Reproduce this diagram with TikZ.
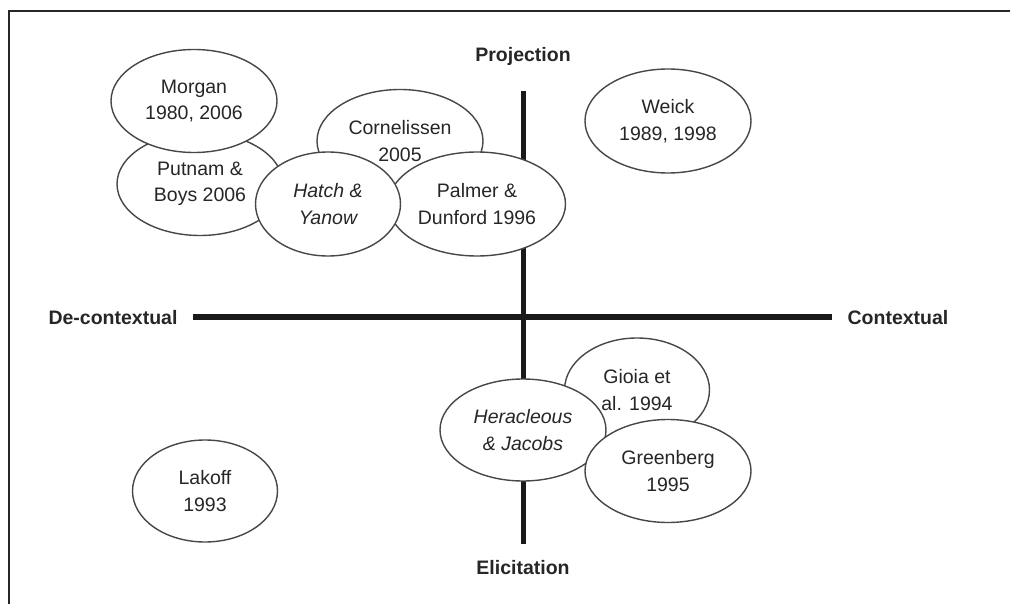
\documentclass[tikz,border=0pt]{standalone}
\usepackage{fontspec}
\setmainfont{Liberation Sans}
\usetikzlibrary{shapes.geometric}
\begin{document}
\begin{tikzpicture}[x=1pt,y=-1pt,
  frameline/.style={line width=2pt,draw=black!85},
  axis/.style={line width=5pt,draw=black!90},
  axislabel/.style={font=\fontsize{19.5}{24}\selectfont\bfseries,text=black!85,inner sep=0pt},
  work/.style={ellipse,draw=black!72,line width=1.4pt,fill=white,inner sep=0pt,
    align=center,text=black!85,font=\fontsize{19.5}{26.5}\selectfont},
  wide/.style={work,minimum width=166pt,minimum height=103pt},
  narrow/.style={work,minimum width=145pt,minimum height=104pt}]
\useasboundingbox (0,0) rectangle (1010,604);
% outer frame (left and top edges)
\draw[frameline] (8.5,604) -- (8.5,11) -- (1010,11);
% axes
\coordinate (ytop) at (523,91);
\coordinate (ybot) at (523,544);
\coordinate (xleft) at (193,317);
\coordinate (xright) at (832,317);
\draw[axis] (ytop) -- (ybot);
\draw[axis] (xleft) -- (xright);
% axis labels
\node[axislabel] (proj) at (523,56) {Projection};
\node[axislabel] (elic) at (523,568) {Elicitation};
\node[axislabel] (decon) at (113,318) {De-contextual};
\node[axislabel] (con) at (898,318) {Contextual};
% upper-left cluster
\node[wide] (putnam) at (200,184) {Putnam \&\\Boys 2006};
\node[wide] (morgan) at (194,101) {Morgan\\1980, 2006};
\node[wide] (corn) at (400,141) {Cornelissen\\2005};
\node[work,minimum width=177pt,minimum height=104pt] (palmer) at (477,204) {Palmer \&\\Dunford 1996};
\node[narrow] (hatch) at (328,204) {\itshape Hatch \&\\\itshape Yanow};
% upper-right
\node[wide,minimum height=104pt] (weick) at (668,121) {Weick\\1989, 1998};
% lower-left
\node[narrow,minimum height=102pt] (lakoff) at (205,491) {Lakoff\\1993};
% lower-right cluster
\node[narrow] (gioia) at (637,390) {Gioia et\\al. 1994};
\node[wide,minimum height=102pt] (hera) at (523,430) {\itshape Heracleous\\\itshape \& Jacobs};
\node[wide,minimum height=103pt] (green) at (668,471) {Greenberg\\1995};
\end{tikzpicture}
\end{document}
